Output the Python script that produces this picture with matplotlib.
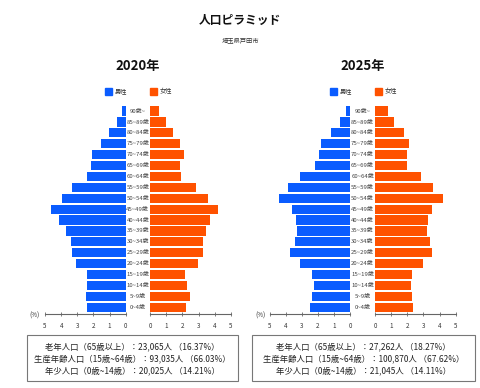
import matplotlib
matplotlib.use('Agg')
import matplotlib.pyplot as plt
from matplotlib.patches import Rectangle
import numpy as np

plt.rcParams['font.family'] = ['Noto Sans CJK JP', 'DejaVu Sans']

ages = ['0~4歳', '5~9歳', '10~14歳', '15~19歳', '20~24歳', '25~29歳', '30~34歳',
        '35~39歳', '40~44歳', '45~49歳', '50~54歳', '55~59歳', '60~64歳',
        '65~69歳', '70~74歳', '75~79歳', '80~84歳', '85~89歳', '90歳~']

# 割合(%)  0~4歳 -> 90歳~
male_2020 = [2.40, 2.46, 2.40, 2.40, 3.06, 3.35, 3.41, 3.70, 4.15, 4.65,
             3.97, 3.35, 2.38, 2.15, 2.09, 1.55, 1.01, 0.52, 0.23]
female_2020 = [2.20, 2.47, 2.26, 2.18, 2.98, 3.27, 3.27, 3.48, 3.72, 4.20,
               3.56, 2.86, 1.93, 1.85, 2.08, 1.85, 1.44, 0.97, 0.58]
male_2025 = [2.48, 2.40, 2.27, 2.35, 3.13, 3.73, 3.46, 3.31, 3.40, 3.60,
             4.42, 3.90, 3.13, 2.21, 1.92, 1.83, 1.21, 0.63, 0.25]
female_2025 = [2.38, 2.27, 2.21, 2.27, 3.00, 3.53, 3.41, 3.20, 3.26, 3.55,
               4.24, 3.62, 2.85, 1.96, 1.96, 2.13, 1.80, 1.20, 0.79]

summary_2020 = ['老年人口（65歳以上）：23,065人 （16.37%）',
                '生産年齢人口（15歳~64歳）：93,035人 （66.03%）',
                '年少人口（0歳~14歳）：20,025人 （14.21%）']
summary_2025 = ['老年人口（65歳以上）：27,262人 （18.27%）',
                '生産年齢人口（15歳~64歳）：100,870人 （67.62%）',
                '年少人口（0歳~14歳）：21,045人 （14.11%）']

BLUE = '#0a5cff'
ORANGE = '#ff5200'
W, H = 480, 388

fig = plt.figure(figsize=(4.8, 3.88), dpi=100)


def fx(px):
    return px / W


def fy(py):
    return 1 - py / H


def style_axis(ax):
    for s in ['top', 'right', 'left']:
        ax.spines[s].set_visible(False)
    ax.spines['bottom'].set_color('#666666')
    ax.spines['bottom'].set_linewidth(0.8)
    ax.set_yticks([])
    ax.set_xlim(0, 5)
    ax.set_ylim(-0.62, 18.6)
    ax.set_xticks(range(6))
    ax.tick_params(axis='x', direction='inout', length=3, width=0.6, color='#666666',
                   labelsize=4.5, labelcolor='#333333', pad=4)
    ax.patch.set_alpha(0)


def pyramid(male, female, year, mx0, mx1, fx0, fx1, summary, bx0, bx1):
    y = np.arange(len(ages))
    bottom, top = 314, 104.5
    axm = fig.add_axes([fx(mx0), fy(bottom), fx(mx1 - mx0), (bottom - top) / H])
    axf = fig.add_axes([fx(fx0), fy(bottom), fx(fx1 - fx0), (bottom - top) / H])
    axm.barh(y, male, height=0.85, color=BLUE)
    axf.barh(y, female, height=0.85, color=ORANGE)
    style_axis(axm)
    style_axis(axf)
    axm.invert_xaxis()

    cx = (mx1 + fx0) / 2
    for i, a in enumerate(ages):
        yy = 307.3 - i * 10.9
        fig.text(fx(cx), fy(yy), a, ha='center', va='center', fontsize=4.3, color='#444444')
    fig.text(fx(mx0 - 10), fy(316), '(%)', ha='center', va='center', fontsize=4.5, color='#333333')

    fig.text(fx((mx0 + fx1) / 2), fy(66), f'{year}年', ha='center', va='center',
             fontsize=9.5, fontweight='bold', color='#111111')

    # 凡例
    lx = cx - 33
    fig.patches.append(Rectangle((fx(lx), fy(95)), fx(7), 7 / H, color=BLUE,
                                 transform=fig.transFigure))
    fig.text(fx(lx + 10), fy(91.5), '男性', ha='left', va='center', fontsize=4.5, color='#333333')
    lx2 = fx0
    fig.patches.append(Rectangle((fx(lx2), fy(95)), fx(7), 7 / H, color=ORANGE,
                                 transform=fig.transFigure))
    fig.text(fx(lx2 + 10), fy(91.5), '女性', ha='left', va='center', fontsize=4.5, color='#333333')

    # 集計ボックス
    fig.patches.append(Rectangle((fx(bx0), fy(381)), fx(bx1 - bx0), 46 / H, fill=False,
                                 edgecolor='#777777', linewidth=0.8,
                                 transform=fig.transFigure))
    for k, line in enumerate(summary):
        fig.text(fx((bx0 + bx1) / 2), fy(347 + k * 11.7), line, ha='center', va='center',
                 fontsize=6.0, color='#222222')


pyramid(male_2020, female_2020, 2020, 45, 125.7, 150, 231, summary_2020, 27, 238)
pyramid(male_2025, female_2025, 2025, 270, 350, 375, 455.7, summary_2025, 252, 475)

fig.text(0.5, fy(20), '人口ピラミッド', ha='center', va='center', fontsize=8.5,
         fontweight='bold', color='#111111')
fig.text(0.5, fy(40), '埼玉県戸田市', ha='center', va='center', fontsize=4.5, color='#333333')

fig.savefig('out.png', dpi=100, facecolor='white')
